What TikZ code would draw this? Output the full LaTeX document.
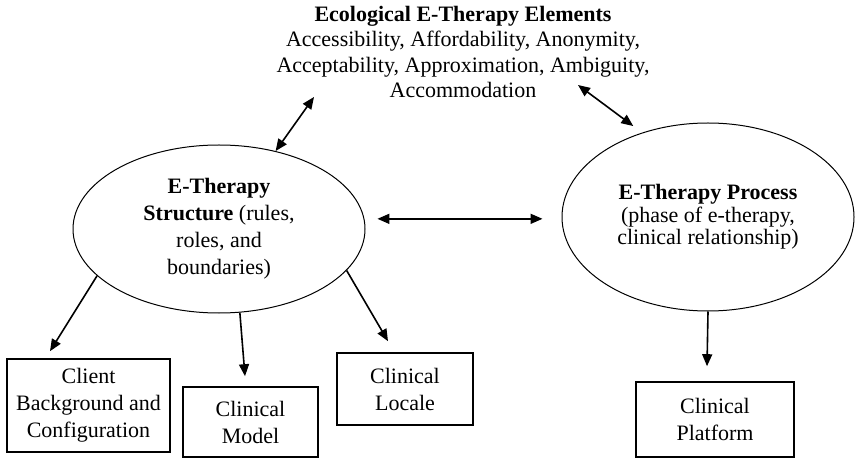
\documentclass[tikz,border=0pt]{standalone}
\usepackage{fontspec}
\setmainfont{Liberation Serif}
\usetikzlibrary{shapes.geometric,arrows.meta}
\tikzset{
  >={Triangle[length=6pt,width=5pt]},
  oval/.style={
    ellipse,
    draw=black, line width=0.5pt,
    align=center,
    inner sep=0pt,
    font=\fontsize{11}{13.5}\selectfont},
  card/.style={
    rectangle,
    draw=black, line width=0.8pt,
    align=center,
    inner sep=0pt,
    font=\fontsize{11}{13.5}\selectfont},
  line/.style={draw, line width=0.8pt},
  heading/.style={align=center, inner sep=0pt, font=\fontsize{11}{12.6}\selectfont}
}

\begin{document}
\begin{tikzpicture}[x=0.5pt,y=-0.5pt]
    \useasboundingbox (0,0) rectangle (855,459);

    % ecological elements on top
    \node[heading] (elements) at (463,52)
        {\textbf{Ecological E-Therapy Elements}\\
         Accessibility, Affordability, Anonymity,\\
         Acceptability, Approximation, Ambiguity,\\
         Accommodation};
    \coordinate (eleL) at (314,97);
    \coordinate (eleR) at (578,85);

    % structure and process
    \node[oval, minimum width=146pt, minimum height=84pt] (struct) at (219,229)
        {\textbf{E-Therapy}\\ \textbf{Structure} (rules,\\ roles, and\\ boundaries)};
    \node[oval, minimum width=146pt, minimum height=94pt,
          font=\fontsize{11}{11.3}\selectfont] (process) at (708,217)
        {\textbf{E-Therapy Process}\\ (phase of e-therapy,\\ clinical relationship)};

    % boxes below
    \node[card, minimum width=81.5pt, minimum height=46.5pt] (client) at (88.5,405.5)
        {Client\\ Background and\\ Configuration};
    \node[card, minimum width=67.5pt, minimum height=35pt] (model) at (250.5,422)
        {Clinical\\ Model};
    \node[card, minimum width=68pt, minimum height=36pt] (locale) at (405,389)
        {Clinical\\ Locale};
    \node[card, minimum width=79pt, minimum height=37.5pt] (platform) at (715,419.5)
        {Clinical\\ Platform};

    % connectors
    \draw[line, <->] (struct.54) -- (eleL);
    \draw[line, <->, shorten >=5.5pt] (eleR) -- (process.128);
    \draw[line, <->, shorten <=6.5pt, shorten >=9.5pt] (struct.4) -- (struct.4 -| process.west);

    \draw[line, ->] (struct.201) -- ([shift={(-38.5,-7)}]client.north);
    \draw[line, ->] (struct.284) -- ([shift={(-5.5,-10)}]model.north);
    \draw[line, ->] (struct.342) -- ([shift={(-17,-11)}]locale.north);
    \draw[line, ->] (process.south) -- ([shift={(-8,-15)}]platform.north);
\end{tikzpicture}
\end{document}
